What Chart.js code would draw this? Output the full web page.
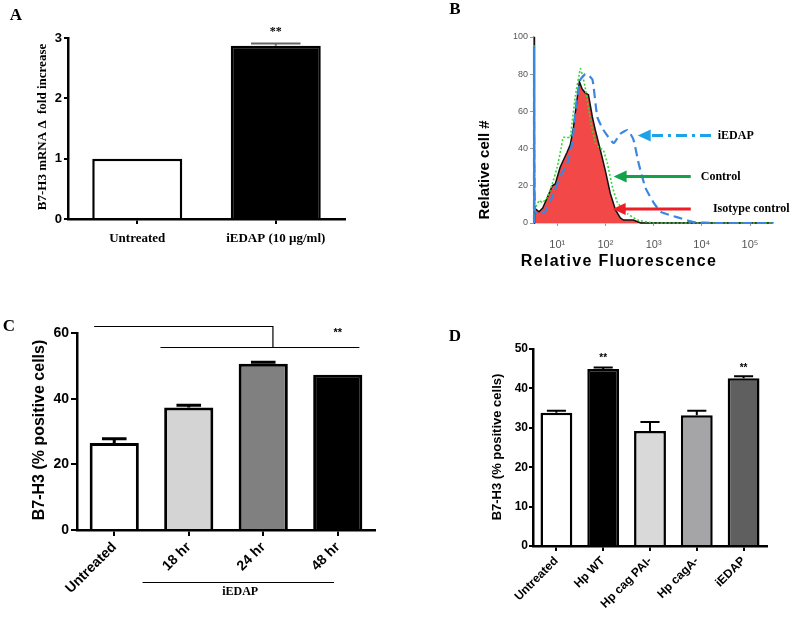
<!DOCTYPE html>
<html>
<head>
<meta charset="utf-8">
<script src="https://cdn.jsdelivr.net/npm/chart.js@4.4.0/dist/chart.umd.min.js"></script>
<style>
  html, body { margin: 0; padding: 0; background: #fff; }
  #fig { position: relative; width: 800px; height: 627px; }
  canvas { position: absolute; }
</style>
</head>
<body>
<div id="fig">
  <canvas id="chartA" width="400" height="300" style="left:0;top:0"></canvas>
  <canvas id="chartB" width="400" height="300" style="left:400px;top:0"></canvas>
  <canvas id="chartC" width="400" height="327" style="left:0;top:300px"></canvas>
  <canvas id="chartD" width="400" height="327" style="left:400px;top:300px"></canvas>
</div>
<script>
// --- A: qPCR fold increase
const catsA = ['Untreated', 'iEDAP (10 µg/ml)'];
const foldA = [1, 2.87];
const errA = [0, 0.04];
const colA = ['#ffffff', '#000000'];

// --- B: flow histogram (fluorescence, relative cell #)
const isoX = [3.3, 3.3, 3.45, 4.2, 5.0, 6.3, 7.9, 9.1, 11.5, 16, 18.6, 21.4, 23.7, 28.8, 33, 38, 44.5, 53.7, 61.7, 79, 100, 126, 162, 204, 237, 380, 540, 300000];
const isoY = [0, 100, 8, 6, 8, 14, 20, 21, 30, 38, 42, 50, 59, 76, 72, 70, 69, 57, 50, 39, 28, 16, 7, 2.7, 1.6, 1.6, 0, 0];
const ctlX = [3.3, 3.3, 3.45, 4.2, 5.0, 6.3, 7.9, 10, 12, 13.3, 16, 18.6, 23.7, 30.2, 33, 38, 49, 61.7, 70.8, 91, 110, 141, 178, 288, 468, 1000, 300000];
const ctlY = [0, 96, 8, 12, 11, 14, 21, 30, 40, 46, 46, 46, 68, 83, 80, 73, 55, 43, 41, 39, 32, 19, 11, 5, 1.6, 0, 0];
const edapX = [3.3, 3.3, 3.45, 4.5, 5.6, 7.9, 11.5, 16.2, 20.4, 25.1, 30.2, 38, 42, 54, 68, 91, 148, 204, 288, 380, 490, 676, 1000, 1410, 3160, 6760, 20000, 300000];
const edapY = [0, 95, 6, 5, 6, 14, 25, 32, 43, 65, 77, 80, 80, 77, 57, 50, 43, 48, 50, 45, 32, 19, 11, 6, 3, 0.5, 0, 0];
const decades = [10, 100, 1000, 10000, 100000];
const supDigits = ['⁰', '¹', '²', '³', '⁴', '⁵'];

// --- C: time course
const catsC = ['Untreated', '18 hr', '24 hr', '48 hr'];
const posC = [26.5, 37.3, 50.6, 47.3];
const errC = [1.3, 0.7, 0.5, 0];
const colC = ['#ffffff', '#d4d4d4', '#808080', '#000000'];

// --- D: strains
const catsD = ['Untreated', 'Hp WT', 'Hp cag PAI-', 'Hp cagA-', 'iEDAP'];
const posD = [33.8, 44.9, 29.2, 33.2, 42.6];
const errD = [0.5, 0.4, 2.3, 1.1, 0.5];
const colD = ['#ffffff', '#000000', '#d9d9d9', '#a5a5a8', '#5f5f5f'];

const SANS = '"Liberation Sans", Arial, sans-serif';
const SERIF = '"Liberation Serif", "Times New Roman", serif';
Chart.defaults.font.family = SANS;
Chart.defaults.color = '#000';

// error bar caps on top of each bar
const errorBars = {
  id: 'errorBars',
  afterDatasetsDraw(chart, args, opts) {
    const errs = opts.values;
    if (!errs) return;
    const ctx = chart.ctx;
    const yScale = chart.scales.y;
    const vals = chart.data.datasets[0].data;
    ctx.save();
    ctx.strokeStyle = opts.color || '#000';
    ctx.lineWidth = opts.width || 2;
    chart.getDatasetMeta(0).data.forEach((bar, i) => {
      if (!errs[i]) return;
      const top = yScale.getPixelForValue(vals[i] + errs[i]);
      const half = bar.width * (opts.cap || 0.5) / 2;
      ctx.beginPath();
      ctx.moveTo(bar.x, bar.y);
      ctx.lineTo(bar.x, top);
      ctx.moveTo(bar.x - half, top);
      ctx.lineTo(bar.x + half, top);
      ctx.stroke();
    });
    ctx.restore();
  }
};

// significance stars, brackets and group lines in data units
const markings = {
  id: 'markings',
  afterDraw(chart, args, opts) {
    const { ctx, scales: { x, y }, chartArea } = chart;
    ctx.save();
    (opts.stars || []).forEach(s => {
      ctx.font = s.font;
      ctx.fillStyle = '#000';
      ctx.textAlign = 'center';
      ctx.textBaseline = 'middle';
      ctx.fillText(s.text || '**', x.getPixelForValue(s.i), y.getPixelForValue(s.v));
    });
    ctx.strokeStyle = '#000';
    ctx.lineWidth = 1.2;
    (opts.paths || []).forEach(p => {
      ctx.beginPath();
      p.forEach(([i, v], k) => {
        const px = x.getPixelForValue(i), py = Math.round(y.getPixelForValue(v)) + 0.5;
        k ? ctx.lineTo(px, py) : ctx.moveTo(px, py);
      });
      ctx.stroke();
    });
    (opts.groups || []).forEach(g => {
      const gy = chartArea.bottom + g.dy + 0.5;
      ctx.beginPath();
      ctx.moveTo(x.getPixelForValue(g.from), gy);
      ctx.lineTo(x.getPixelForValue(g.to), gy);
      ctx.stroke();
      ctx.font = g.font;
      ctx.fillStyle = '#000';
      ctx.textAlign = 'center';
      ctx.textBaseline = 'middle';
      ctx.fillText(g.label, x.getPixelForValue(g.labelAt), chartArea.bottom + g.labelDy);
    });
    ctx.restore();
  }
};

// arrows pointing at histogram curves
const arrowNotes = {
  id: 'arrowNotes',
  afterDatasetsDraw(chart, args, opts) {
    const { ctx, scales: { x, y } } = chart;
    (opts.items || []).forEach(a => {
      const xt = x.getPixelForValue(a.tail), xh = x.getPixelForValue(a.head), yy = y.getPixelForValue(a.level);
      ctx.save();
      ctx.strokeStyle = a.color;
      ctx.fillStyle = a.color;
      ctx.lineWidth = 3;
      ctx.setLineDash(a.dash || []);
      ctx.beginPath();
      ctx.moveTo(xt, yy);
      ctx.lineTo(xh + 10, yy);
      ctx.stroke();
      ctx.setLineDash([]);
      ctx.beginPath();
      ctx.moveTo(xh, yy);
      ctx.lineTo(xh + 13, yy - 6);
      ctx.lineTo(xh + 13, yy + 6);
      ctx.closePath();
      ctx.fill();
      ctx.fillStyle = '#000';
      ctx.font = 'bold 12px ' + SERIF;
      ctx.textAlign = 'left';
      ctx.textBaseline = 'middle';
      ctx.fillText(a.label, x.getPixelForValue(a.labelAt), yy);
      ctx.restore();
    });
  }
};

// free text: panel letters and axis titles
const textLayer = {
  id: 'textLayer',
  afterDraw(chart, args, opts) {
    const ctx = chart.ctx;
    (opts.items || []).forEach(t => {
      ctx.save();
      ctx.font = t.font;
      ctx.fillStyle = t.color || '#000';
      ctx.textAlign = t.align || 'center';
      ctx.textBaseline = 'middle';
      if (t.spacing) ctx.letterSpacing = t.spacing;
      ctx.translate(t.x, t.y);
      if (t.rot) ctx.rotate(t.rot);
      ctx.fillText(t.text, 0, 0);
      ctx.restore();
    });
  }
};

function barPanel(id, c) {
  return new Chart(document.getElementById(id), {
    type: 'bar',
    data: {
      labels: c.labels,
      datasets: [{
        data: c.values,
        backgroundColor: c.colors,
        borderColor: '#000',
        borderWidth: c.barBorder,
        barPercentage: c.barPct,
        categoryPercentage: 1,
      }],
    },
    options: {
      responsive: false,
      animation: false,
      layout: { padding: c.pad },
      plugins: {
        legend: { display: false },
        tooltip: { enabled: false },
        errorBars: c.err,
        markings: c.marks || {},
        textLayer: { items: c.texts },
      },
      scales: {
        x: {
          grid: { offset: false, drawOnChartArea: false, tickLength: c.xTick, color: '#000', lineWidth: 2 },
          border: { color: '#000', width: c.axisW },
          ticks: { font: c.xFont, color: '#000', padding: c.xPad, minRotation: c.rot, maxRotation: c.rot, autoSkip: false },
          afterFit: s => { s.height = c.xH; },
        },
        y: {
          min: 0, max: c.yMax,
          grid: { drawOnChartArea: false, tickLength: c.yTick, color: '#000', lineWidth: 2 },
          border: { color: '#000', width: c.axisW },
          ticks: { stepSize: c.yStep, font: c.yFont, color: '#000', padding: c.yPad },
          afterFit: s => { s.width = c.yW; },
        },
      },
    },
    plugins: [errorBars, markings, textLayer],
  });
}

// Panel A
barPanel('chartA', {
  labels: catsA, values: foldA, colors: colA,
  barBorder: 2.5, barPct: 0.65, axisW: 2.5,
  pad: { left: 0, top: 38, right: 55, bottom: 0 }, yW: 68, xH: 81,
  yMax: 3, yStep: 1, yTick: 4, yPad: 2, xTick: 5, xPad: 7, rot: 0,
  yFont: { size: 13, weight: 'bold' },
  xFont: { size: 13, weight: 'bold', family: SERIF },
  err: { values: errA, color: '#666', width: 2, cap: 0.55 },
  marks: { stars: [{ i: 1, v: 3.1, font: 'bold 12px ' + SERIF }] },
  texts: [
    { text: 'A', x: 16, y: 16, font: 'bold 17px ' + SERIF },
    { text: 'B7-H3 mRNA Δ  fold increase', x: 43, y: 127, rot: -Math.PI / 2, font: 'bold 13px ' + SERIF },
  ],
});

// Panel B
const pts = (xs, ys) => xs.map((v, i) => ({ x: v, y: ys[i] }));
new Chart(document.getElementById('chartB'), {
  type: 'line',
  data: {
    datasets: [
      { label: 'iEDAP', data: pts(edapX, edapY), borderColor: '#3c86df', borderWidth: 2.2, borderDash: [9, 5], pointRadius: 0, fill: false, tension: 0.15, clip: false },
      { label: 'Control', data: pts(ctlX, ctlY), borderColor: '#39d439', borderWidth: 1.6, borderDash: [2, 2], pointRadius: 0, fill: false, tension: 0.1, clip: false },
      { label: 'Isotype control', data: pts(isoX, isoY), borderColor: '#111', backgroundColor: '#f24848', borderWidth: 1.5, pointRadius: 0, fill: 'origin', tension: 0, clip: false },
    ],
  },
  options: {
    responsive: false,
    animation: false,
    layout: { padding: { left: 0, top: 37, right: 27, bottom: 0 } },
    plugins: {
      legend: { display: false },
      tooltip: { enabled: false },
      arrowNotes: {
        items: [
          { label: 'iEDAP', head: 468, tail: 15500, labelAt: 21400, level: 47, color: '#1aa3e8', dash: [11, 5, 3, 5] },
          { label: 'Control', head: 148, tail: 5900, labelAt: 9500, level: 25, color: '#13a14a' },
          { label: 'Isotype control', head: 141, tail: 5900, labelAt: 17000, level: 7.5, color: '#ee1c24' },
        ],
      },
      textLayer: {
        items: [
          { text: 'B', x: 55, y: 10, font: 'bold 17px ' + SERIF },
          { text: 'Relative cell #', x: 85, y: 170, rot: -Math.PI / 2, font: 'bold 15px ' + SANS },
          { text: 'Relative Fluorescence', x: 219, y: 262, font: 'bold 16px ' + SANS, spacing: '1.3px' },
        ],
      },
    },
    scales: {
      x: {
        type: 'logarithmic', min: 3.3, max: 300000,
        afterBuildTicks: s => { s.ticks = decades.map(v => ({ value: v })); },
        grid: { drawOnChartArea: false, tickLength: 3, color: '#999' },
        border: { color: '#999', width: 1.5 },
        ticks: { font: { size: 11 }, color: '#555', padding: 12, callback: v => '10' + supDigits[Math.round(Math.log10(v))] },
        afterFit: s => { s.height = 77; },
      },
      y: {
        min: 0, max: 100,
        grid: { drawOnChartArea: false, tickLength: 4, color: '#999' },
        border: { color: '#999', width: 1.5 },
        ticks: { stepSize: 20, font: { size: 9 }, color: '#555', padding: 2 },
        afterFit: s => { s.width = 134; },
      },
    },
  },
  plugins: [arrowNotes, textLayer],
});

// Panel C
barPanel('chartC', {
  labels: catsC, values: posC, colors: colC,
  barBorder: 3, barPct: 0.66, axisW: 2.5,
  pad: { left: 0, top: 33, right: 25, bottom: 0 }, yW: 77, xH: 97,
  yMax: 60, yStep: 20, yTick: 6, yPad: 2, xTick: 6, xPad: 3, rot: 45,
  yFont: { size: 14, weight: 'bold' },
  xFont: { size: 14, weight: 'bold' },
  err: { values: errC, color: '#000', width: 3, cap: 0.5 },
  marks: {
    stars: [{ i: 3, v: 60, font: 'bold 11px ' + SANS }],
    paths: [
      [[-0.27, 62.1], [2.13, 62.1], [2.13, 55.7]],
      [[0.62, 55.7], [3.29, 55.7]],
    ],
    groups: [{ from: 0.38, to: 2.95, dy: 52, label: 'iEDAP', labelAt: 1.69, labelDy: 62, font: 'bold 12px ' + SERIF }],
  },
  texts: [
    { text: 'C', x: 9, y: 27, font: 'bold 17px ' + SERIF },
    { text: 'B7-H3 (% positive cells)', x: 40, y: 130, rot: -Math.PI / 2, font: 'bold 16px ' + SANS },
  ],
});

// Panel D
barPanel('chartD', {
  labels: catsD, values: posD, colors: colD,
  barBorder: 2.5, barPct: 0.68, axisW: 2.5,
  pad: { left: 0, top: 49, right: 33, bottom: 0 }, yW: 133, xH: 81,
  yMax: 50, yStep: 10, yTick: 4, yPad: 1, xTick: 5, xPad: 3, rot: 45,
  yFont: { size: 12, weight: 'bold' },
  xFont: { size: 12, weight: 'bold' },
  err: { values: errD, color: '#000', width: 2, cap: 0.6 },
  marks: {
    stars: [
      { i: 1, v: 47.7, font: 'bold 10px ' + SANS },
      { i: 4, v: 45, font: 'bold 10px ' + SANS },
    ],
  },
  texts: [
    { text: 'D', x: 55, y: 37, font: 'bold 17px ' + SERIF },
    { text: 'B7-H3 (% positive cells)', x: 97, y: 147, rot: -Math.PI / 2, font: 'bold 13px ' + SANS },
  ],
});
</script>
</body>
</html>
